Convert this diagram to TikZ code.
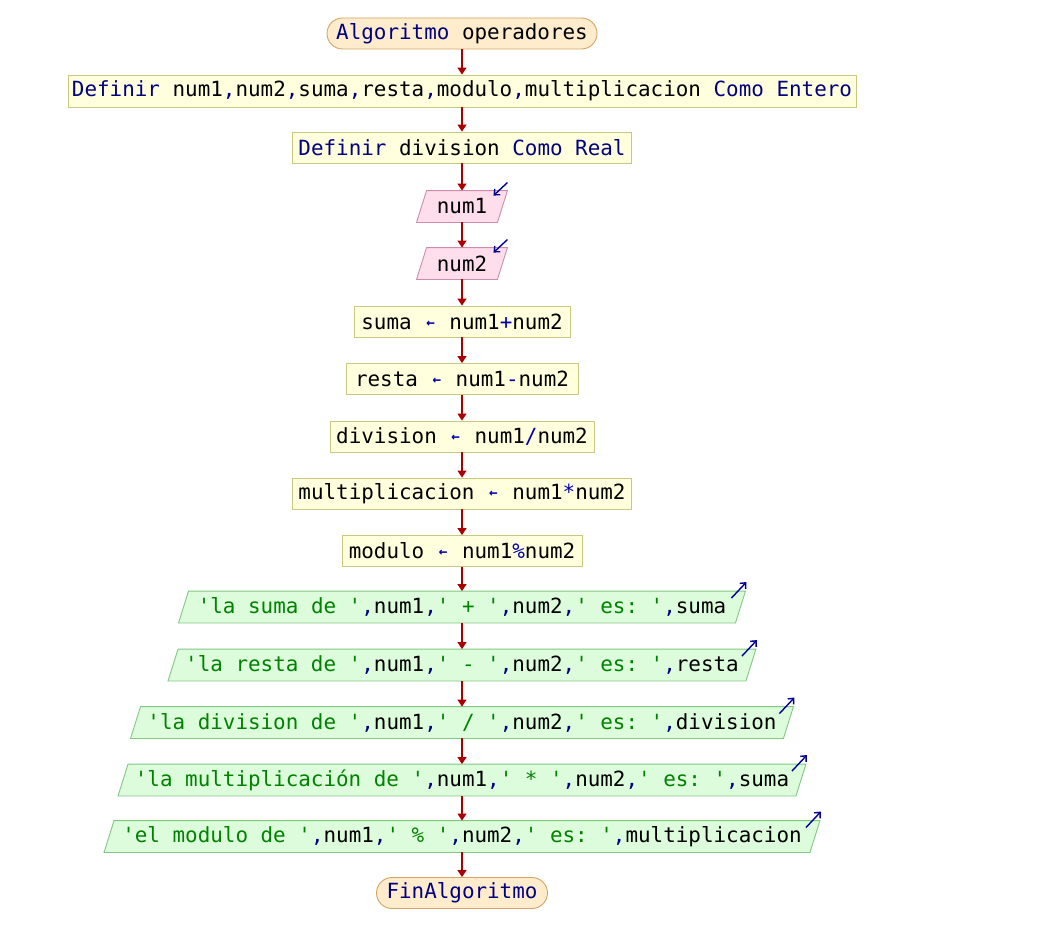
\documentclass[tikz,border=0pt]{standalone}
\usepackage{fontspec}
\setmonofont{DejaVu Sans Mono}
\usetikzlibrary{arrows.meta,calc,backgrounds}

\definecolor{kw}{RGB}{0,0,128}
\definecolor{strg}{RGB}{0,130,0}
\definecolor{opc}{RGB}{0,0,170}
\definecolor{flow}{RGB}{170,0,0}
\definecolor{procfill}{RGB}{255,255,221}
\definecolor{procdraw}{RGB}{200,200,130}
\definecolor{infill}{RGB}{255,222,236}
\definecolor{indraw}{RGB}{205,140,170}
\definecolor{outfill}{RGB}{220,252,220}
\definecolor{outdraw}{RGB}{130,200,130}
\definecolor{termfill}{RGB}{255,236,204}
\definecolor{termdraw}{RGB}{210,165,100}
\definecolor{iconblue}{RGB}{0,0,150}

% keywords, string literals, operators and the assignment arrow
\newcommand\kw[1]{\textcolor{kw}{#1}}
\newcommand\str[1]{\textcolor{strg}{#1}}
\newcommand\opr[1]{\textcolor{opc}{#1}}
\newcommand\asg{\textcolor{opc}{\makebox[0.602em]{\raisebox{0.09em}{\scalebox{0.68}{\bfseries ←}}}}}

\begin{document}
\begin{tikzpicture}[x=1pt,y=-1pt,
  font=\ttfamily\fontsize{20.9pt}{24pt}\selectfont,
  base/.style={minimum height=31pt, inner sep=0pt, line width=0.9pt},
  proc/.style={base, rectangle, fill=procfill, draw=procdraw},
  term/.style={base, rectangle, rounded corners=15.5pt, fill=termfill, draw=termdraw},
  iobox/.style={base, rectangle},
  inshape/.style={fill=infill, draw=indraw, line width=0.9pt},
  outshape/.style={fill=outfill, draw=outdraw, line width=0.9pt},
  flowline/.style={draw=flow, line width=1.4pt, -{Triangle[length=7pt,width=9pt]}},
  icon/.style={draw=iconblue, line width=1.4pt, -{Straight Barb[length=4.5pt,width=8pt]}}]

\path[use as bounding box] (0,0) rectangle (1040,936);

% flow steps
\node[term, minimum width=270pt] (start) at (462,33.5) {\kw{Algoritmo} operadores};
\node[proc, minimum width=788pt, minimum height=32pt] (def1) at (462,91)
  {\kw{Definir} num1\kw{,}num2\kw{,}suma\kw{,}resta\kw{,}modulo\kw{,}multiplicacion \kw{Como Entero}};
\node[proc, minimum width=339pt] (def2) at (462,147.5) {\kw{Definir} division \kw{Como Real}};
\node[iobox, minimum width=80pt] (in1) at (462,206.5) {num1};
\node[iobox, minimum width=80pt] (in2) at (462,263.5) {num2};
\node[proc, minimum width=216pt] (sum) at (462,321.5) {suma \asg{} num1\opr{+}num2};
\node[proc, minimum width=232pt] (res) at (462,379) {resta \asg{} num1\opr{-}num2};
\node[proc, minimum width=264pt] (div) at (462,436.5) {division \asg{} num1\opr{/}num2};
\node[proc, minimum width=339pt] (mul) at (462,493.5) {multiplicacion \asg{} num1\opr{*}num2};
\node[proc, minimum width=240pt] (mod) at (462,551) {modulo \asg{} num1\opr{\%}num2};
\node[iobox, minimum width=556pt] (o1) at (462,607)
  {\str{'la suma de '}\kw{,}num1\kw{,}\str{' + '}\kw{,}num2\kw{,}\str{' es: '}\kw{,}suma};
\node[iobox, minimum width=577pt] (o2) at (462,665)
  {\str{'la resta de '}\kw{,}num1\kw{,}\str{' - '}\kw{,}num2\kw{,}\str{' es: '}\kw{,}resta};
\node[iobox, minimum width=652pt] (o3) at (462,722.5)
  {\str{'la division de '}\kw{,}num1\kw{,}\str{' / '}\kw{,}num2\kw{,}\str{' es: '}\kw{,}division};
\node[iobox, minimum width=677pt] (o4) at (462,780)
  {\str{'la multiplicación de '}\kw{,}num1\kw{,}\str{' * '}\kw{,}num2\kw{,}\str{' es: '}\kw{,}suma};
\node[iobox, minimum width=705pt] (o5) at (462,836.5)
  {\str{'el modulo de '}\kw{,}num1\kw{,}\str{' \% '}\kw{,}num2\kw{,}\str{' es: '}\kw{,}multiplicacion};
\node[term, minimum width=171pt] (end) at (462,893) {\kw{FinAlgoritmo}};

% slanted input / output frames behind their texts
\begin{scope}[on background layer]
  \fill[white] (0,0) rectangle (1040,936);
  \foreach \n in {in1,in2}
    \draw[inshape] ($(\n.north west)+(5,0)$) -- ($(\n.north east)+(5,0)$)
      -- ($(\n.south east)+(-5,0)$) -- ($(\n.south west)+(-5,0)$) -- cycle;
  \foreach \n in {o1,o2,o3,o4,o5}
    \draw[outshape] ($(\n.north west)+(5,0)$) -- ($(\n.north east)+(5,0)$)
      -- ($(\n.south east)+(-5,0)$) -- ($(\n.south west)+(-5,0)$) -- cycle;
\end{scope}

% read / write markers
\foreach \n in {in1,in2}
  \draw[icon] ($(\n.north east)+(5,-8)$) -- ($(\n.north east)+(-9,5)$);
\foreach \n in {o1,o2,o3,o4,o5}
  \draw[icon] ($(\n.north east)+(-9,7)$) -- ($(\n.north east)+(6,-9)$);

% control flow
\foreach \a/\b in {start/def1,def1/def2,def2/in1,in1/in2,in2/sum,sum/res,res/div,
                   div/mul,mul/mod,mod/o1,o1/o2,o2/o3,o3/o4,o4/o5,o5/end}
  \draw[flowline] (\a) -- (\b);
\end{tikzpicture}
\end{document}
